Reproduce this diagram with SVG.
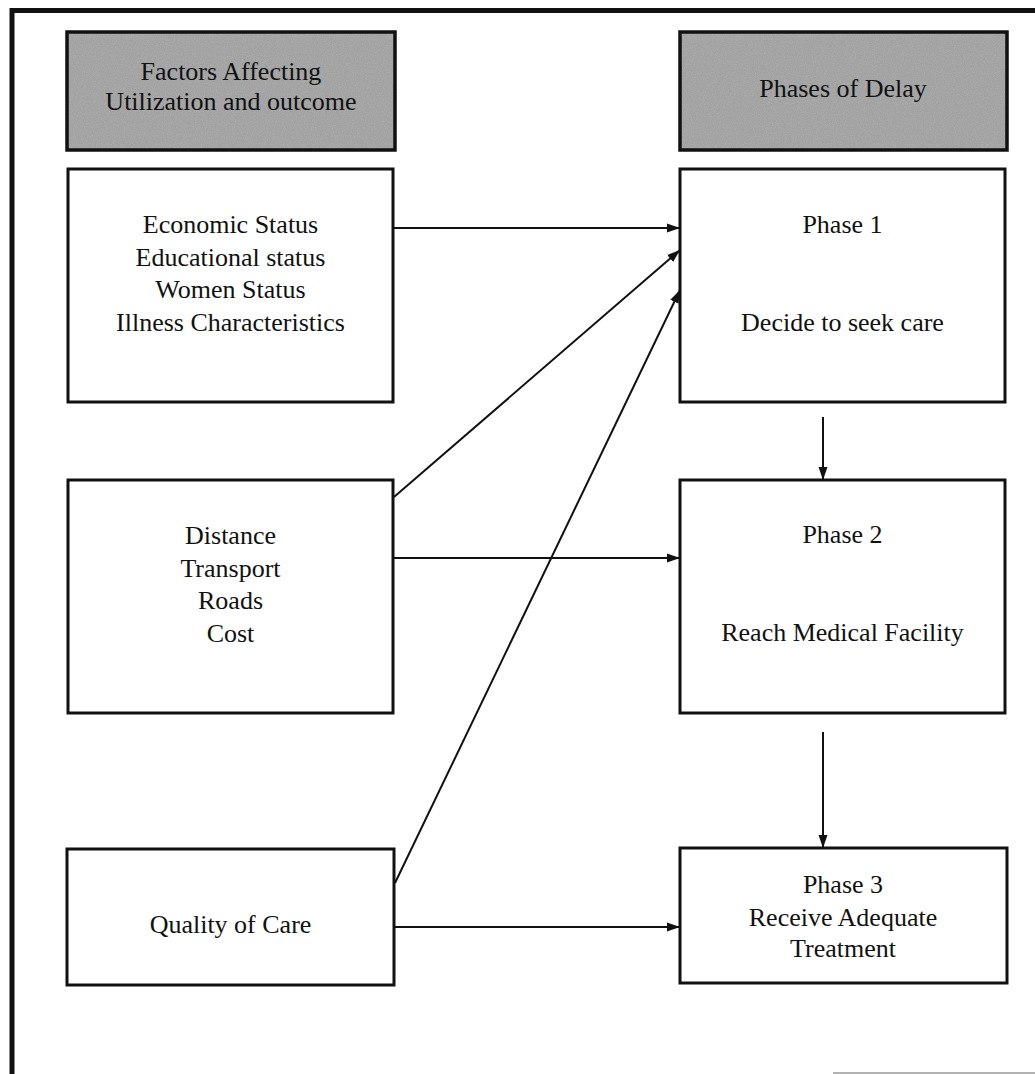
<svg xmlns="http://www.w3.org/2000/svg" width="1035" height="1074" viewBox="0 0 1035 1074">
<defs>
<marker id="ah" markerUnits="userSpaceOnUse" markerWidth="14" markerHeight="12" refX="13" refY="6" orient="auto">
<path d="M0,1.5 L13,6 L0,10.5 Z" fill="#111"/>
</marker>
<filter id="grain" x="0" y="0" width="1" height="1">
<feTurbulence type="fractalNoise" baseFrequency="0.9" numOctaves="2" seed="3" result="n"/>
<feColorMatrix in="n" type="matrix" values="0 0 0 0 0.45  0 0 0 0 0.45  0 0 0 0 0.45  1.2 0 0 0 -0.45" result="g"/>
<feComposite in="g" in2="SourceGraphic" operator="in"/>
</filter>
</defs>
<style>
.box{fill:#fff;stroke:#111;stroke-width:3}
.hdr{fill:#a2a2a2;stroke:#111;stroke-width:3.5}
.t{font-family:"Liberation Serif","Times New Roman",serif;font-size:26px;fill:#111;text-anchor:middle}
.c{stroke:#111;stroke-width:2;fill:none}
</style>
<rect width="1035" height="1074" fill="#fff"/>
<g id="frame">
<line x1="12" y1="8" x2="12" y2="1074" stroke="#111" stroke-width="5"/>
<line x1="10" y1="10.5" x2="1035" y2="10.5" stroke="#111" stroke-width="5"/>
<line x1="833" y1="1073" x2="1035" y2="1073" stroke="#999" stroke-width="1.5"/>
</g>
<g id="hdr-factors">
<rect class="hdr" x="67" y="32" width="328" height="118"/>
<rect x="69" y="34" width="324" height="114" fill="#fff" filter="url(#grain)"/>
<text class="t" x="231" y="80">Factors Affecting</text>
<text class="t" x="231" y="110">Utilization and outcome</text>
</g>
<g id="hdr-phases">
<rect class="hdr" x="680" y="32" width="327" height="118"/>
<rect x="682" y="34" width="323" height="114" fill="#fff" filter="url(#grain)"/>
<text class="t" x="843" y="97">Phases of Delay</text>
</g>
<g id="n-socio">
<rect class="box" x="68" y="169" width="325" height="233"/>
<text class="t" x="230.5" y="233">Economic Status</text>
<text class="t" x="230.5" y="266">Educational status</text>
<text class="t" x="230.5" y="298">Women Status</text>
<text class="t" x="230.5" y="331">Illness Characteristics</text>
</g>
<g id="n-access">
<rect class="box" x="68" y="480" width="325" height="233"/>
<text class="t" x="230.5" y="544">Distance</text>
<text class="t" x="230.5" y="577">Transport</text>
<text class="t" x="230.5" y="609">Roads</text>
<text class="t" x="230.5" y="642">Cost</text>
</g>
<g id="n-quality">
<rect class="box" x="67" y="849" width="327" height="136"/>
<text class="t" x="230.5" y="933">Quality of Care</text>
</g>
<g id="n-phase1">
<rect class="box" x="680" y="169" width="325" height="233"/>
<text class="t" x="842.5" y="233">Phase 1</text>
<text class="t" x="842.5" y="331">Decide to seek care</text>
</g>
<g id="n-phase2">
<rect class="box" x="680" y="480" width="325" height="233"/>
<text class="t" x="842.5" y="543">Phase 2</text>
<text class="t" x="842.5" y="641">Reach Medical Facility</text>
</g>
<g id="n-phase3">
<rect class="box" x="680" y="848" width="327" height="135"/>
<text class="t" x="843" y="893">Phase 3</text>
<text class="t" x="843" y="926">Receive Adequate</text>
<text class="t" x="843" y="957">Treatment</text>
</g>
<g id="connectors">
<line class="c" x1="394" y1="228" x2="680" y2="228" marker-end="url(#ah)"/>
<line class="c" x1="394" y1="497" x2="680" y2="250" marker-end="url(#ah)"/>
<line class="c" x1="395" y1="883" x2="680" y2="290" marker-end="url(#ah)"/>
<line class="c" x1="394" y1="558" x2="680" y2="558" marker-end="url(#ah)"/>
<line class="c" x1="395" y1="927" x2="680" y2="927" marker-end="url(#ah)"/>
<line class="c" x1="823" y1="417" x2="823" y2="480" marker-end="url(#ah)"/>
<line class="c" x1="823" y1="732" x2="823" y2="848" marker-end="url(#ah)"/>
</g>
</svg>
